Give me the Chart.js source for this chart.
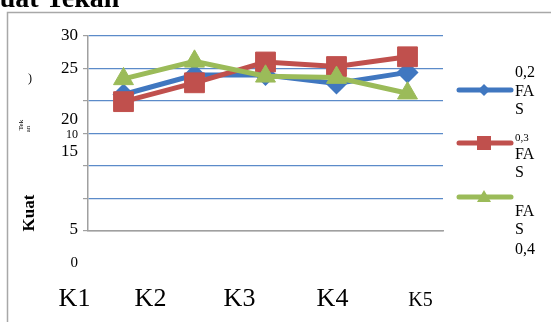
<!DOCTYPE html>
<html lang="id">
<head>
    <meta charset="UTF-8">
    <title>Kuat Tekan</title>
    <script src="https://cdn.jsdelivr.net/npm/chart.js"></script>
    <style>
        body { margin: 0; background: #fff; overflow: hidden; }
        #wrap { width: 551px; height: 322px; }
        canvas { display: block; }
    </style>
</head>
<body>
<div id="wrap"><canvas id="kuatChart" width="551" height="322"></canvas></div>

<script>
// data
const categories = ['K1', 'K2', 'K3', 'K4', 'K5'];
const fas02 = [21.0, 24.0, 24.0, 22.7, 24.4];
const fas03 = [19.9, 22.8, 26.0, 25.3, 26.8];
const fas04 = [23.4, 26.1, 23.8, 23.6, 21.2];

// tick labels as they appear (scrambled in the source)
const yTickText = ['30', '25', '20', '10', '15', '5', '0'];
const yTickAt   = [30, 25, 17.2, 14.8, 12.3, 0.3, -4.9];   // axis units
const yTickSize = [17, 17, 17, 12, 17, 17, 15];
const xLabelShift = [-49, -44, -26, -4, 13];               // px from category centre
const xLabelSize  = [26, 26, 26, 26, 20];

const legendLines = ['0,2', 'FA', 'S', '0,3', 'FA', 'S', 'FA', 'S', '0,4'];
const legendLineY = [73, 92, 110, 138, 155, 173, 212, 230, 250];
const legendLineSize = [16, 16, 16, 11, 16, 16, 16, 16, 16];

const BLUE = '#4077c0', RED = '#c0504d', GREEN = '#9bbb59';
const GRID = '#5b8bc9', AXIS = '#a0a0a0';
const SERIF = '"Liberation Serif", "Times New Roman", serif';

const decor = {
    id: 'decor',
    beforeDraw(chart) {
        const c = chart.ctx;
        c.save();
        c.fillStyle = '#fff';
        c.fillRect(0, 0, chart.width, chart.height);
        c.strokeStyle = '#a8a8a8';
        c.lineWidth = 1.5;
        c.beginPath();
        c.moveTo(7.5, 322); c.lineTo(7.5, 12.5); c.lineTo(551, 12.5);
        c.stroke();
        c.restore();
    },
    afterDraw(chart) {
        const c = chart.ctx;
        const xs = chart.scales.x, ys = chart.scales.y;
        c.save();
        c.fillStyle = '#000';

        // clipped title
        c.font = 'bold 28px ' + SERIF;
        c.textAlign = 'left';
        c.textBaseline = 'alphabetic';
        c.fillText('Kuat Tekan', -22, 7);

        // y tick labels
        c.textAlign = 'right';
        c.textBaseline = 'middle';
        yTickText.forEach((t, i) => {
            c.font = yTickSize[i] + 'px ' + SERIF;
            c.fillText(t, 78, ys.getPixelForValue(yTickAt[i]));
        });

        // x labels
        c.textAlign = 'center';
        c.textBaseline = 'alphabetic';
        categories.forEach((t, i) => {
            c.font = xLabelSize[i] + 'px ' + SERIF;
            c.fillText(t, xs.getPixelForValue(i) + xLabelShift[i], 306);
        });

        // broken y axis title
        c.save();
        c.translate(30, 213);
        c.rotate(-Math.PI / 2);
        c.font = 'bold 17px ' + SERIF;
        c.textAlign = 'center';
        c.textBaseline = 'middle';
        c.fillText('Kuat', 0, 0);
        c.restore();
        c.save();
        c.translate(21, 125);
        c.rotate(-Math.PI / 2);
        c.font = '7px ' + SERIF;
        c.textAlign = 'center';
        c.textBaseline = 'middle';
        c.fillText('Tek', 0, 0);
        c.fillText('an', -4, 7);
        c.restore();
        c.font = '12px ' + SERIF;
        c.textAlign = 'center';
        c.textBaseline = 'middle';
        c.fillText(')', 30, 79);

        // legend
        const items = [
            { color: BLUE, y: 90, style: 'diamond' },
            { color: RED, y: 143, style: 'square' },
            { color: GREEN, y: 197, style: 'triangle' }
        ];
        items.forEach(it => {
            c.strokeStyle = it.color;
            c.fillStyle = it.color;
            c.lineWidth = 5;
            c.lineCap = 'round';
            c.beginPath();
            c.moveTo(459, it.y); c.lineTo(511, it.y);
            c.stroke();
            c.beginPath();
            if (it.style === 'diamond') {
                c.moveTo(484, it.y - 6); c.lineTo(490, it.y); c.lineTo(484, it.y + 6); c.lineTo(478, it.y);
            } else if (it.style === 'square') {
                c.rect(477, it.y - 7, 14, 14);
            } else {
                c.moveTo(484, it.y - 7); c.lineTo(491, it.y + 5); c.lineTo(477, it.y + 5);
            }
            c.closePath();
            c.fill();
        });

        c.fillStyle = '#000';
        c.textAlign = 'left';
        c.textBaseline = 'middle';
        legendLines.forEach((t, i) => {
            c.font = legendLineSize[i] + 'px ' + SERIF;
            c.fillText(t, 515, legendLineY[i]);
        });
        c.restore();
    }
};

const ctx = document.getElementById('kuatChart').getContext('2d');
new Chart(ctx, {
    type: 'line',
    data: {
        labels: categories,
        datasets: [{
            label: '0,2 FAS',
            data: fas02,
            borderColor: BLUE,
            backgroundColor: BLUE,
            borderWidth: 5,
            pointStyle: 'rectRot',
            pointRadius: 7.5,
            order: 3
        }, {
            label: '0,3 FAS',
            data: fas03,
            borderColor: RED,
            backgroundColor: RED,
            borderWidth: 5,
            pointStyle: 'rect',
            pointRadius: 14,
            pointBorderWidth: 1,
            order: 2
        }, {
            label: '0,4 FAS',
            data: fas04,
            borderColor: GREEN,
            backgroundColor: GREEN,
            borderWidth: 5,
            pointStyle: 'triangle',
            pointRadius: 11.5,
            pointBorderWidth: 1,
            order: 1
        }]
    },
    options: {
        responsive: false,
        animation: false,
        layout: { padding: { left: 83, right: 108, top: 36, bottom: 91 } },
        plugins: { legend: { display: false }, tooltip: { enabled: false } },
        scales: {
            x: {
                offset: true,
                ticks: { display: false },
                grid: { display: false, drawTicks: false },
                border: { display: true, color: AXIS, width: 1.5 }
            },
            y: {
                min: 0,
                max: 30,
                ticks: { display: false, stepSize: 5 },
                grid: {
                    color: (c) => (c.tick && c.tick.value === 0 ? AXIS : GRID),
                    tickColor: AXIS,
                    tickLength: 5,
                    lineWidth: 1.2
                },
                border: { display: true, color: AXIS, width: 1.5 }
            }
        }
    },
    plugins: [decor]
});
</script>
</body>
</html>
